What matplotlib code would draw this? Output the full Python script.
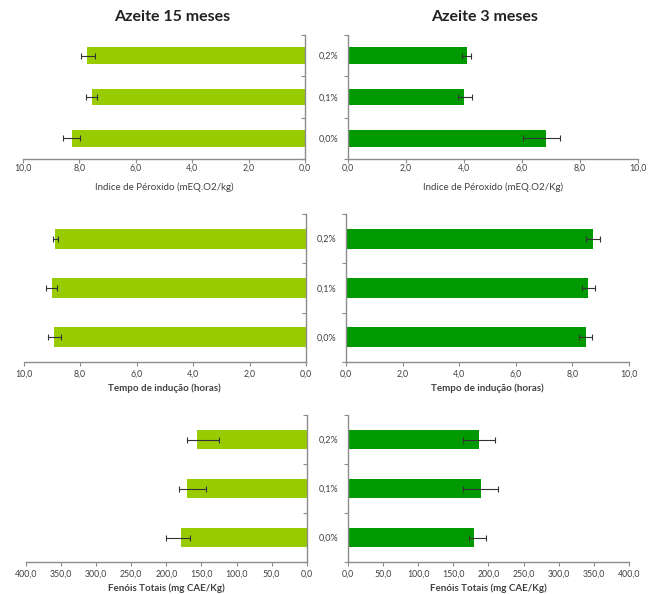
import matplotlib
matplotlib.use("Agg")
import matplotlib.pyplot as plt
from matplotlib.ticker import FuncFormatter, FixedLocator

plt.rcParams['font.family'] = ['Lato', 'DejaVu Sans']

# categories (bottom to top)
categories = ['0,0%', '0,1%', '0,2%']

# Indice de peroxido
perox_15 = [8.28, 7.55, 7.72]
perox_15_lo = [0.29, 0.19, 0.26]
perox_15_hi = [0.30, 0.20, 0.21]
perox_3 = [6.84, 4.02, 4.10]
perox_3_lo = [0.78, 0.20, 0.15]
perox_3_hi = [0.49, 0.28, 0.14]

# Tempo de inducao
tempo_15 = [8.91, 9.01, 8.89]
tempo_15_lo = [0.22, 0.20, 0.12]
tempo_15_hi = [0.22, 0.19, 0.08]
tempo_3 = [8.47, 8.56, 8.73]
tempo_3_lo = [0.23, 0.21, 0.26]
tempo_3_hi = [0.22, 0.23, 0.26]

# Fenois totais
fenois_15 = [179.6, 170.2, 155.9]
fenois_15_lo = [12.9, 26.2, 30.5]
fenois_15_hi = [20.9, 11.4, 14.7]
fenois_3 = [180.0, 190.0, 186.3]
fenois_3_lo = [7.5, 26.5, 22.8]
fenois_3_hi = [17.0, 23.7, 22.7]

light_green = '#99CC00'
dark_green = '#009A00'
spine_col = '#8c8c8c'
text_col = '#404040'

W, H = 652, 594


def box(x0, y0, x1, y1):
    return [x0 / W, 1 - y1 / H, (x1 - x0) / W, (y1 - y0) / H]


def comma(v, pos):
    return f"{v:.1f}".replace('.', ',')


def draw(ax, vals, lo, hi, color, xmax, step, label, left_side,
         bold_label=False, tpad=1.5, lpad=4):
    y = range(len(categories))
    ax.barh(y, vals, height=0.4, color=color, zorder=2)
    ax.errorbar(vals, y, xerr=[lo, hi], fmt='none', ecolor='#333333',
                elinewidth=0.8, capsize=2, capthick=0.8, zorder=3)
    ax.set_ylim(-0.5, 2.5)
    ax.set_xticks([i * step for i in range(int(round(xmax / step)) + 1)])
    ax.xaxis.set_major_formatter(FuncFormatter(comma))
    ax.tick_params(axis='x', labelsize=6.3, colors=spine_col, labelcolor=text_col,
                   length=3, width=0.8, pad=tpad)
    ax.yaxis.set_major_locator(FixedLocator(list(y)))
    ax.yaxis.set_minor_locator(FixedLocator([-0.5, 0.5, 1.5, 2.5]))
    ax.spines['top'].set_visible(False)
    for s in ['left', 'right', 'bottom']:
        ax.spines[s].set_color(spine_col)
        ax.spines[s].set_linewidth(1.0)
    if left_side:
        ax.set_xlim(xmax, 0)
        ax.spines['left'].set_visible(False)
        ax.yaxis.tick_right()
        ax.set_yticklabels([])
        ax.tick_params(axis='y', which='major', length=0)
        ax.tick_params(axis='y', which='minor', direction='in', length=3,
                       width=0.8, colors=spine_col)
    else:
        ax.set_xlim(0, xmax)
        ax.spines['right'].set_visible(False)
        ax.set_yticklabels(categories)
        ax.tick_params(axis='y', which='major', length=0, labelsize=6.5,
                       labelcolor=text_col, pad=7)
        ax.tick_params(axis='y', which='minor', direction='out', length=3,
                       width=0.8, colors=spine_col)
    ax.set_xlabel(label, fontsize=7, color=text_col, labelpad=lpad,
                  fontweight='bold' if bold_label else 'normal')


fig = plt.figure(figsize=(W / 100, H / 100), dpi=100)

ax1 = fig.add_axes(box(23, 35, 305, 159))
ax2 = fig.add_axes(box(347.7, 35, 637.7, 159))
ax3 = fig.add_axes(box(23.7, 214, 306, 362))
ax4 = fig.add_axes(box(346, 214, 629, 362))
ax5 = fig.add_axes(box(26, 415, 306.7, 562))
ax6 = fig.add_axes(box(347.7, 415, 629, 562))

draw(ax1, perox_15, perox_15_lo, perox_15_hi, light_green, 10, 2,
     'Indice de Péroxido (mEQ.O2/kg)', True, tpad=0.5, lpad=7)
draw(ax2, perox_3, perox_3_lo, perox_3_hi, dark_green, 10, 2,
     'Indice de Péroxido (mEQ.O2/Kg)', False, tpad=0.5, lpad=7)
draw(ax3, tempo_15, tempo_15_lo, tempo_15_hi, light_green, 10, 2,
     'Tempo de indução (horas)', True, True, tpad=2.5, lpad=3.5)
draw(ax4, tempo_3, tempo_3_lo, tempo_3_hi, dark_green, 10, 2,
     'Tempo de indução (horas)', False, True, tpad=2.5, lpad=3.5)
draw(ax5, fenois_15, fenois_15_lo, fenois_15_hi, light_green, 400, 50,
     'Fenóis Totais (mg CAE/Kg)', True, True, tpad=2.5, lpad=3.5)
draw(ax6, fenois_3, fenois_3_lo, fenois_3_hi, dark_green, 400, 50,
     'Fenóis Totais (mg CAE/Kg)', False, True, tpad=2.5, lpad=3.5)

fig.text(172 / W, 1 - 17 / H, 'Azeite 15 meses', ha='center', va='center',
         fontsize=11.5, fontweight='bold', color='#222222')
fig.text(485 / W, 1 - 17 / H, 'Azeite 3 meses', ha='center', va='center',
         fontsize=11.5, fontweight='bold', color='#222222')

fig.savefig('out.png', dpi=100)
